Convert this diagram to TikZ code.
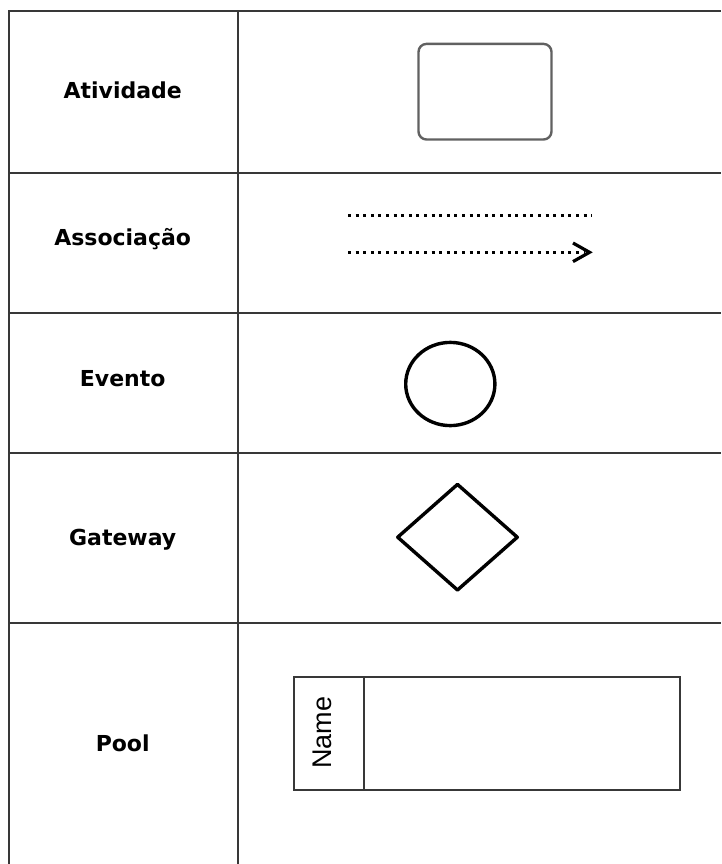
\documentclass[tikz,border=0pt]{standalone}
\usepackage{fontspec}
\setmainfont{DejaVu Sans}
\newfontfamily\namefont{Liberation Sans}
\begin{document}
\begin{tikzpicture}[x=1pt,y=-1pt,
  gridline/.style={draw=black!78,line width=2pt},
  rowlabel/.style={font=\bfseries\fontsize{22}{24}\selectfont,anchor=base,inner sep=0pt},
  actbox/.style={draw=black!62,line width=2.4pt,rounded corners=8pt},
  evtshape/.style={draw=black,line width=3.4pt},
  poolbox/.style={draw=black!78,line width=2pt},
  dots/.style={draw=black,line width=3pt,dash pattern=on 3pt off 4.6pt},
  chevron/.style={draw=black,line width=3.2pt,line join=miter}]
\useasboundingbox (0,0) rectangle (721,864);
% table grid
\coordinate (tl) at (8.5,10.7);
\coordinate (tr) at (721,10.7);
\coordinate (bl) at (8.5,864);
\coordinate (ct) at (237.5,10.7);
\coordinate (cb) at (237.5,864);
\draw[gridline] (bl) -- (tl) -- (tr);
\draw[gridline] (ct) -- (cb);
\foreach \yy in {172.7,313.3,453,622.7}{
  \draw[gridline] (8.5,\yy) -- (721,\yy);
}
% labels
\node[rowlabel] (l1) at (122.7,99) {Atividade};
\node[rowlabel] (l2) at (122.7,245) {Associação};
\node[rowlabel] (l3) at (122.7,386.5) {Evento};
\node[rowlabel] (l4) at (122.7,545.5) {Gateway};
\node[rowlabel] (l5) at (122.7,751) {Pool};
% activity
\draw[actbox] (418.5,43.9) rectangle (551.5,139.5);
% association
\coordinate (a1s) at (348,215.7);
\coordinate (a1e) at (592,215.7);
\coordinate (a2s) at (348,252.3);
\coordinate (a2e) at (584,252.3);
\coordinate (tipA) at (573,243);
\coordinate (tip) at (589.5,252.3);
\coordinate (tipB) at (573,261.6);
\draw[dots] (a1s) -- (a1e);
\draw[dots] (a2s) -- (a2e);
\draw[chevron] (tipA) -- (tip) -- (tipB);
% event
\draw[evtshape] (450.3,384) ellipse [x radius=44.6, y radius=41.6];
% gateway
\draw[evtshape,line join=round] (457.5,484.4) -- (517.3,537.2) -- (457.5,590) -- (397.7,537.2) -- cycle;
% pool
\draw[poolbox] (293.7,677) rectangle (680,789.7);
\draw[poolbox] (363.7,677) -- (363.7,789.7);
\node[font=\namefont\fontsize{27}{30}\selectfont,rotate=90,anchor=base,inner sep=0pt] (nm) at (331.5,732.5) {Name};
\end{tikzpicture}
\end{document}
